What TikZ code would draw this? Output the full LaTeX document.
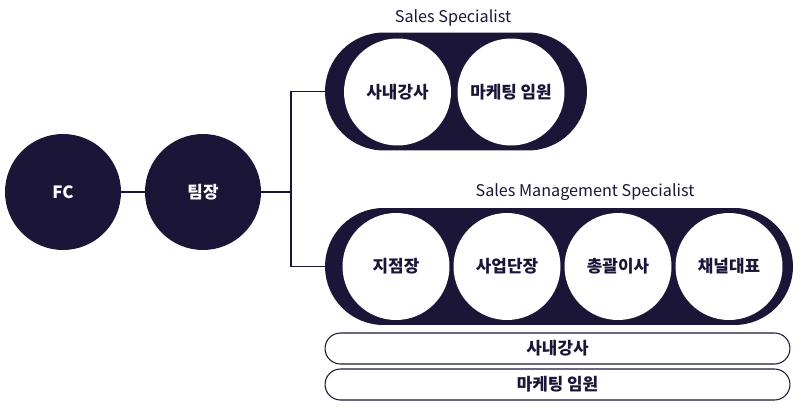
\documentclass[tikz,border=0pt]{standalone}
\usepackage{fontspec}
\setmainfont{Noto Sans CJK KR}
\usetikzlibrary{positioning}

\definecolor{navy}{RGB}{27,22,56}

\tikzset{
  role/.style={circle, fill=navy, text=white, minimum size=2.32cm, inner sep=0pt, font=\fontsize{9.6}{11}\selectfont\bfseries},
  pill/.style={rectangle, fill=navy, minimum height=2.36cm, rounded corners=1.18cm, inner sep=0pt},
  slot/.style={circle, fill=white, text=navy, minimum size=2.14cm, inner sep=0pt, font=\fontsize{9.6}{11}\selectfont\bfseries},
  bar/.style={rectangle, draw=navy, line width=0.6pt, fill=white, minimum width=9.3cm, minimum height=0.62cm, rounded corners=0.31cm, inner sep=0pt, text=navy, font=\fontsize{9.6}{11}\selectfont\bfseries},
  title/.style={text=navy, font=\fontsize{9.2}{11}\selectfont},
  link/.style={draw=navy, line width=0.7pt}
}

\begin{document}
\begin{tikzpicture}[x=0.02cm, y=-0.02cm]
\useasboundingbox (0,0) rectangle (800,412);

% FC and team leader
\node[role] (fc) at (63,192) {FC};
\node[role] (lead) at (203,192) {팀장};

% Sales Specialist
\node[pill, minimum width=5.24cm] (ss) at (456,91.5) {};
\node[title] (sstitle) at (453,18) {Sales Specialist};
\node[slot] (trainer) at (397.5,92) {사내강사};
\node[slot] (mkt) at (511,92) {마케팅 임원};

% Sales Management Specialist
\node[pill, minimum width=9.36cm, minimum height=2.34cm, rounded corners=1.17cm] (sms) at (559,266.5) {};
\node[title] (smstitle) at (585,192) {Sales Management Specialist};
\node[slot] (branch) at (396,266.5) {지점장};
\node[slot] (unit) at (507,266.5) {사업단장};
\node[slot] (gm) at (618,266.5) {총괄이사};
\node[slot] (channel) at (729,266.5) {채널대표};

% bars below
\node[bar] (bar1) at (557.5,348.5) {사내강사};
\node[bar] (bar2) at (557.5,384.5) {마케팅 임원};

% connectors
\coordinate (split) at (291,192);
\draw[link] (fc) -- (lead);
\draw[link] (lead) -- (split);
\draw[link] (split) |- (ss.west);
\draw[link] (split) |- (sms.west);

\end{tikzpicture}
\end{document}
